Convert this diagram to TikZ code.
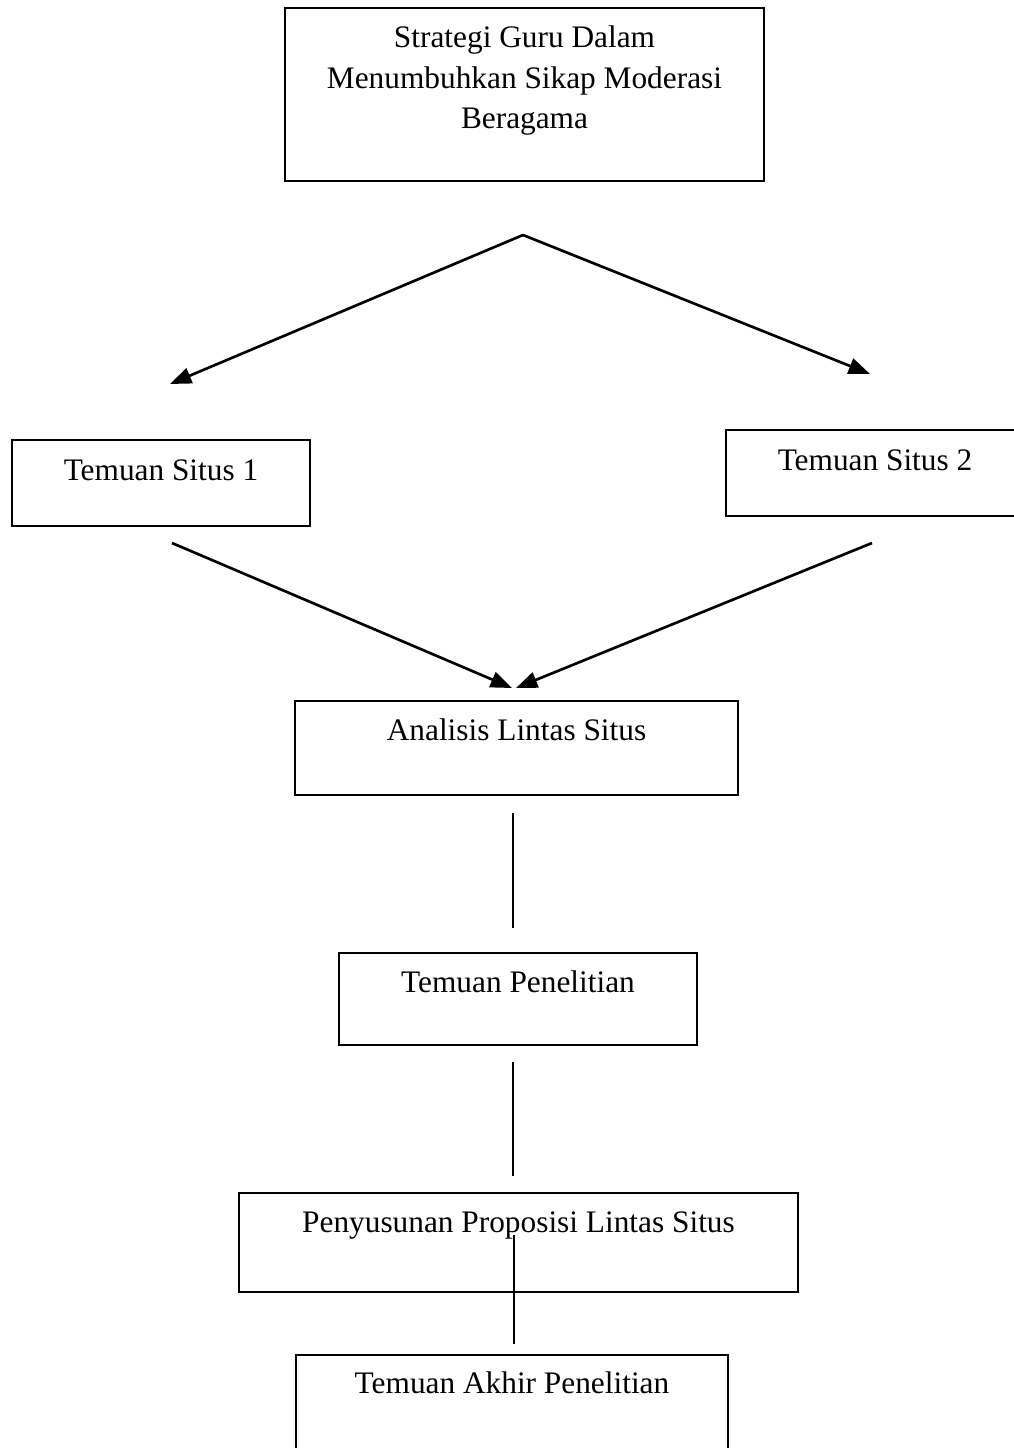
\documentclass[tikz,border=0pt]{standalone}
\usepackage{fontspec}
\setmainfont{Liberation Serif}
\usetikzlibrary{arrows.meta}
\tikzset{every picture/.style={line width=2pt}}

\begin{document}
\begin{tikzpicture}[x=0.75pt,y=0.75pt,yscale=-1,xscale=1,line width=2pt,
  kotak/.style={draw, line width=1.3pt, inner sep=0pt, anchor=north, align=center, font=\fontsize{23.5}{30.5}\selectfont},
  panah/.style={-{Triangle[length=16pt,width=12pt]}}]
\useasboundingbox (0,0) rectangle (1013,1448);

% Boxes
\node [kotak, minimum width=359.25pt, text height=90.75pt, text depth=39pt] (strategi) at (524.5,7) {Strategi Guru Dalam\\Menumbuhkan Sikap Moderasi\\Beragama};
\node [kotak, minimum width=223.5pt, text height=30.75pt, text depth=33.75pt] (situsA) at (161,439) {Temuan Situs 1};
\node [kotak, minimum width=223.5pt, text height=30.75pt, text depth=33.75pt] (situsB) at (875,429) {Temuan Situs 2};
\node [kotak, minimum width=332.25pt, text height=30pt, text depth=40.5pt] (analisis) at (516.5,700) {Analisis Lintas Situs};
\node [kotak, minimum width=268.5pt, text height=30pt, text depth=39pt] (temuan) at (518,952) {Temuan Penelitian};
\node [kotak, minimum width=419.25pt, text height=30pt, text depth=44.25pt] (proposisi) at (518.5,1192) {Penyusunan Proposisi Lintas Situs};
\node [kotak, minimum width=324pt, text height=29.25pt, text depth=48pt] (akhir) at (512,1354) {Temuan Akhir Penelitian};

% Free ends of the connectors
\coordinate (puncak) at (523,235);
\coordinate (ujungA) at (170,384);
\coordinate (ujungB) at (870,374);
\coordinate (pangkalA) at (172,543);
\coordinate (pangkalB) at (872,543);
\coordinate (masukA) at (512,688);
\coordinate (masukB) at (516,688);
\coordinate (g1a) at (513,813);
\coordinate (g1b) at (513,928);
\coordinate (g2a) at (513,1062);
\coordinate (g2b) at (513,1176);
\coordinate (g3a) at (514,1235);
\coordinate (g3b) at (514,1344);

%Arrows
\draw [panah] (puncak) -- (ujungA);
\draw [panah] (puncak) -- (ujungB);
\draw [panah] (pangkalA) -- (masukA);
\draw [panah] (pangkalB) -- (masukB);
%Straight Lines
\draw (g1a) -- (g1b);
\draw (g2a) -- (g2b);
\draw (g3a) -- (g3b);

\end{tikzpicture}
\end{document}
